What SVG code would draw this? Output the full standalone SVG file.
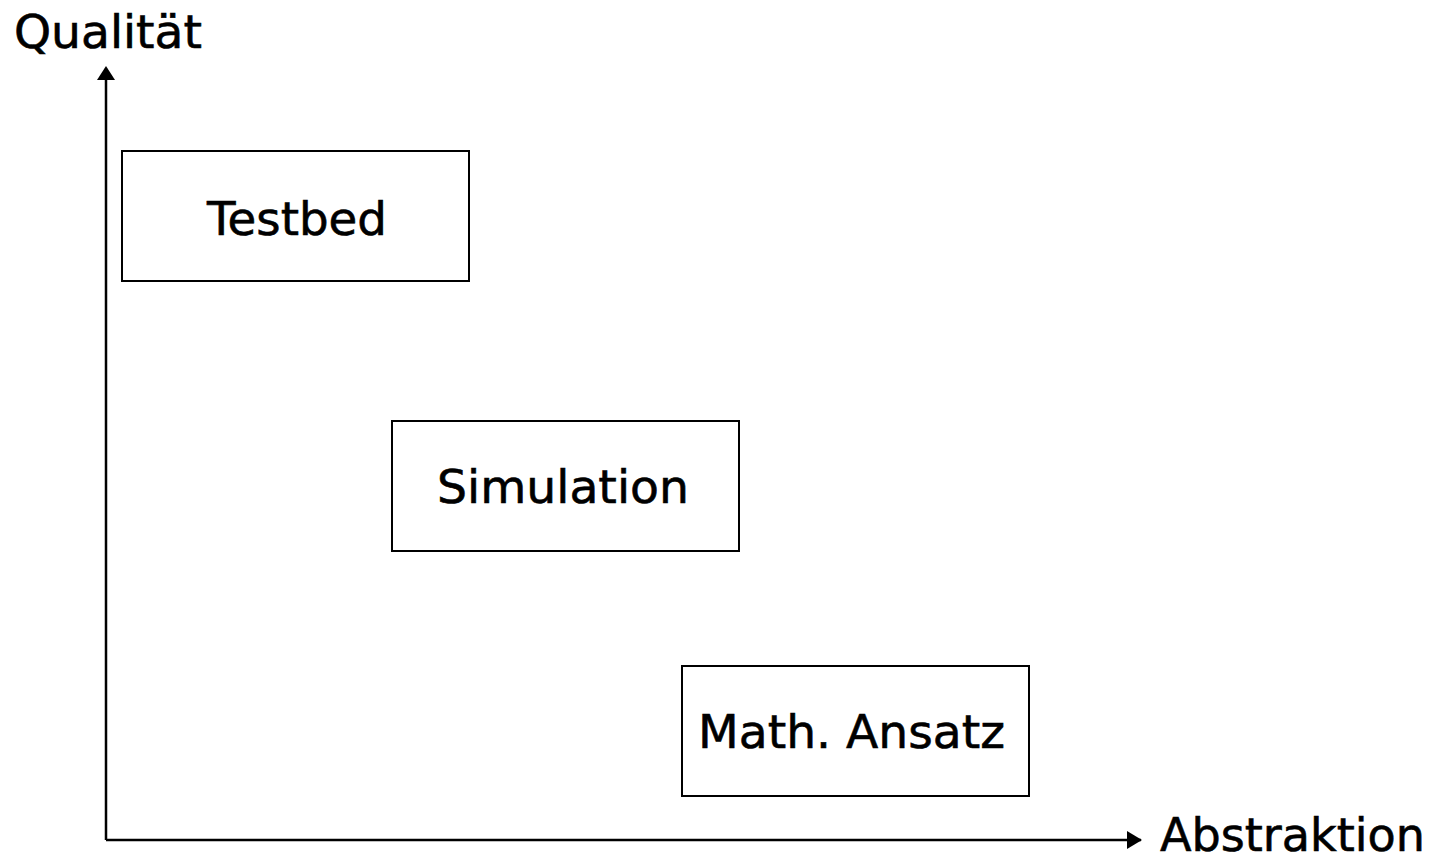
<svg xmlns="http://www.w3.org/2000/svg" width="1437" height="863" viewBox="0 0 1437 863">
<style>
.box{fill:#fff;stroke:#000;stroke-width:2}
.t{font-family:"DejaVu Sans",sans-serif;font-size:46px;fill:#000;stroke:#000;stroke-width:0.6}
.ax{stroke:#000;stroke-width:2.5;fill:none}
</style>
<rect width="1437" height="863" fill="#fff"/>
<g id="connectors">
<path d="M106,840 L106,70" class="ax"/>
<path d="M106,840 L1141,840" class="ax"/>
<path d="M97,80 L106,66 L115,80 Z" fill="#000"/>
<path d="M1127,831 L1142,840 L1127,849 Z" fill="#000"/>
</g>
<g id="axis-y-label"><text class="t" x="14" y="48" textLength="188" lengthAdjust="spacingAndGlyphs">Qualität</text></g>
<g id="axis-x-label"><text class="t" x="1160" y="851" font-size="45" textLength="265" lengthAdjust="spacingAndGlyphs">Abstraktion</text></g>
<g id="testbed">
<rect class="box" x="122" y="151" width="347" height="130"/>
<text class="t" x="207" y="235" textLength="180" lengthAdjust="spacingAndGlyphs">Testbed</text>
</g>
<g id="simulation">
<rect class="box" x="392" y="421" width="347" height="130"/>
<text class="t" x="437" y="503" textLength="252" lengthAdjust="spacingAndGlyphs">Simulation</text>
</g>
<g id="math">
<rect class="box" x="682" y="666" width="347" height="130"/>
<text class="t" x="698" y="748" textLength="307" lengthAdjust="spacingAndGlyphs">Math. Ansatz</text>
</g>
</svg>
